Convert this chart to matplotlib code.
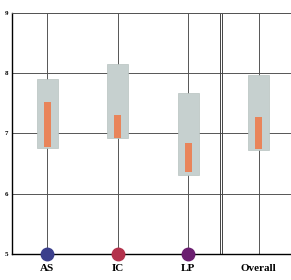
import numpy as np
import matplotlib
matplotlib.use("Agg")
import matplotlib.pyplot as plt

categories = ["AS", "IC", "LP", "Overall"]
gray_low = [6.75, 6.92, 6.31, 6.72]
gray_high = [7.90, 8.16, 7.67, 7.97]
orange_low = [6.77, 6.93, 6.36, 6.74]
orange_high = [7.52, 7.31, 6.84, 7.28]
dot_labels = ["AS", "IC", "LP"]
dot_colors = ["#3b3f8c", "#b3324c", "#6b1f70"]
yticks = [5, 6, 7, 8, 9]

fig = plt.figure(figsize=(2.91, 2.80), dpi=100)
ax = fig.add_axes([0.041, 0.093, 0.959, 0.861])

x = np.arange(len(categories))

# grid lines through categories
for xi in x:
    ax.axvline(xi, color="#555555", lw=0.7, zorder=1)
for yv in yticks[1:]:
    ax.axhline(yv, color="#555555", lw=0.7, zorder=1)

# separator before "Overall"
ax.axvline(2.45, color="#444444", lw=0.7, zorder=1)
ax.axvline(2.48, color="#444444", lw=0.7, zorder=1)

ax.bar(x, np.array(gray_high) - np.array(gray_low), bottom=gray_low,
       width=0.3, color="#c6d0cf", edgecolor="#b7c2c0", lw=0.5, zorder=2)
ax.bar(x, np.array(orange_high) - np.array(orange_low), bottom=orange_low,
       width=0.1, color="#e9845a", zorder=3)

for i, c in enumerate(dot_colors):
    ax.plot(i, 5, "o", ms=9, color=c, zorder=5, clip_on=False)

ax.set_xlim(-0.5, 3.46)
ax.set_ylim(5, 9)
ax.set_yticks(yticks)
ax.set_yticklabels([str(v) for v in yticks], fontsize=5, fontweight="bold",
                   family="Liberation Serif")
ax.set_xticks(x)
ax.set_xticklabels(categories, fontsize=8, fontweight="bold", family="Liberation Serif")
ax.tick_params(axis="both", length=0, pad=3)
ax.tick_params(axis="x", pad=7)
ax.spines["right"].set_visible(False)
ax.spines["top"].set_color("#555555")
ax.spines["top"].set_linewidth(0.7)
ax.spines["left"].set_linewidth(1.0)
ax.spines["bottom"].set_linewidth(1.0)

fig.savefig("out.png", dpi=100)
